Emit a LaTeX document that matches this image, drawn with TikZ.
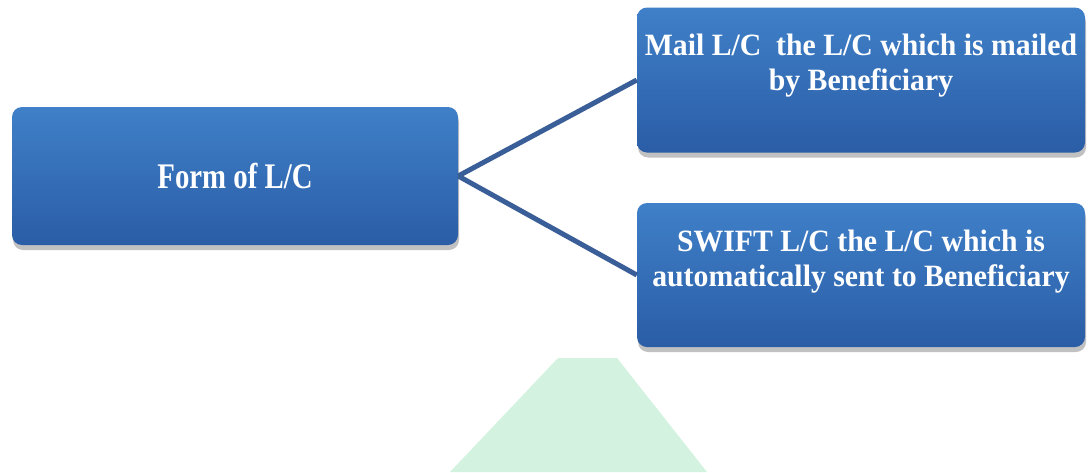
\documentclass[tikz,border=0pt]{standalone}
\usepackage{fontspec}
\setmainfont{Liberation Serif}
\newfontfamily\narrowA[FakeStretch=0.8]{Liberation Serif}
\newfontfamily\narrowB[FakeStretch=0.96]{Liberation Serif}
\usetikzlibrary{shadows}
\definecolor{boxtop}{HTML}{3F80C8}
\definecolor{boxbot}{HTML}{2A5DA6}
\definecolor{linkcol}{HTML}{3A5E98}
\definecolor{wmgreen}{HTML}{D3F3E0}
\tikzset{
  bluebox/.style={rectangle, rounded corners=10pt, top color=boxtop, bottom color=boxbot,
    draw=none, text=white, align=center, inner sep=0pt,
    drop shadow={shadow xshift=1pt, shadow yshift=-5pt, opacity=0.35, fill=black!70}},
  bigtext/.style={font=\narrowA\bfseries\fontsize{36}{40}\selectfont},
  smalltext/.style={font=\narrowB\bfseries\fontsize{31}{35}\selectfont, text=white, align=center, inner sep=0pt},
  link/.style={draw=linkcol, line width=5pt}
}
\begin{document}
\begin{tikzpicture}[x=1pt,y=-1pt]
\useasboundingbox (0,0) rectangle (1088,472);
\fill[wmgreen] (558,358) -- (617,358) -- (707,472) -- (450,472) -- cycle;
\node[bluebox, bigtext, minimum width=446pt, minimum height=138pt] (form) at (235,176)
  {Form of L/C};
\node[bluebox, minimum width=448pt, minimum height=145pt] (mail) at (861,80) {};
\node[smalltext] (mailtext) at ([yshift=14pt]mail.center)
  {Mail L/C\ \ the L/C which is mailed\\ by Beneficiary};
\node[bluebox, minimum width=448pt, minimum height=144pt] (swift) at (861,275) {};
\node[smalltext] (swifttext) at ([yshift=13pt]swift.center)
  {SWIFT L/C the L/C which is\\ automatically sent to Beneficiary};
\draw[link] (form.east) -- (mail.west);
\draw[link] (form.east) -- (swift.west);
\end{tikzpicture}
\end{document}
